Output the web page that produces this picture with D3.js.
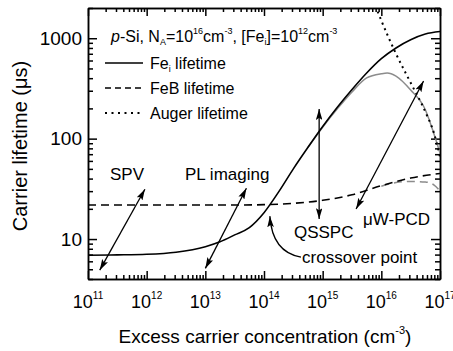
<!DOCTYPE html>
<html>
<head>
<meta charset="utf-8">
<script src="https://cdn.jsdelivr.net/npm/d3@7"></script>
<style>
  html, body { margin: 0; padding: 0; background: #fff; }
  svg { display: block; font-family: "Liberation Sans", Arial, Helvetica, sans-serif; }
  .axis path, .axis line { stroke: #000; stroke-width: 1.5; }
</style>
</head>
<body>
<svg id="chart" width="453" height="351"></svg>
<script>
// concentrations are written as log10(cm^-3), lifetimes in microseconds
var feiLogN = [11, 11.5, 12, 12.5, 13, 13.25, 13.5, 13.75, 14, 14.25, 14.5, 14.75, 15, 15.25, 15.5, 15.75, 16, 16.25, 16.5, 16.75, 17];
var feiTau  = [6.9, 6.95, 7.05, 7.4, 8.4, 9.4, 11.0, 13.0, 18.3, 29.5, 50, 82, 132, 205, 308, 450, 625, 800, 965, 1100, 1165];

var febLogN = [11, 12, 13, 13.5, 14, 14.5, 15, 15.5, 16, 16.5, 17];
var febTau  = [21.8, 21.8, 21.8, 21.8, 22.0, 22.7, 24.3, 27.6, 34, 40.5, 45];

var augerLogN = [15.9, 16, 16.25, 16.5, 16.75, 16.9, 17];
var augerTau  = [2100, 1500, 700, 360, 185, 112, 66];

// effective lifetimes (grey): trap + Auger
var feiEffLogN = [14.75, 15, 15.25, 15.5, 15.75, 16, 16.1, 16.25, 16.5, 16.75, 16.9, 17];
var feiEffTau  = [82, 130, 198, 292, 402, 443, 450, 420, 305, 194, 110, 72];

var febEffLogN = [16, 16.25, 16.5, 16.75, 16.9, 17];
var febEffTau  = [33.6, 36.5, 37.5, 37, 34.5, 30];

var xTickExp  = [11, 12, 13, 14, 15, 16, 17];
var yTickVals = [10, 100, 1000];

// measurement technique annotations
var noteText  = ["SPV", "PL imaging", "QSSPC", "\u03bcW-PCD", "crossover point"];
var noteLogN  = [11.375, 12.653, 14.511, 15.687, 14.648];
var noteTau   = [38.7, 38.7, 10.2, 13.8, 5.77];
var arrowLogN0 = [11.2, 13.0, 14.94, 15.57];
var arrowTau0  = [4.9, 5.1, 15.8, 19.9];
var arrowLogN1 = [11.97, 13.7, 14.94, 16.72];
var arrowTau1  = [31.3, 32, 197, 375];
// crossover pointer: start, control, end
var crossLogN = [14.63, 14.14, 14.10];
var crossTau  = [6.6, 7.4, 16.9];

var plotLeft = 88, plotRight = 440, plotTop = 8, plotBottom = 279;

var svg = d3.select('#chart');

var x = d3.scaleLog().domain([1e11, 1e17]).range([plotLeft, plotRight]);
var y = d3.scaleLog().domain([4, 2000]).range([plotBottom, plotTop]);

var pow10 = function (e) { return Math.pow(10, e); };
var isDecade = function (v) {
  var l = Math.log10(v);
  return Math.abs(l - Math.round(l)) < 1e-9;
};

var defs = svg.append('defs');
defs.append('clipPath').attr('id', 'plot-clip')
  .append('rect')
  .attr('x', plotLeft).attr('y', plotTop)
  .attr('width', plotRight - plotLeft).attr('height', plotBottom - plotTop);

defs.append('marker')
  .attr('id', 'head')
  .attr('viewBox', '0 0 10 6')
  .attr('refX', 10)
  .attr('refY', 3)
  .attr('markerWidth', 11)
  .attr('markerHeight', 6.6)
  .attr('markerUnits', 'userSpaceOnUse')
  .attr('orient', 'auto-start-reverse')
  .append('path')
  .attr('d', 'M0,0L10,3L0,6L2,3Z')
  .attr('fill', '#000');

// axes: ticks pointing inward on all four sides
var majorX = xTickExp.map(pow10);
var minorX = x.ticks().filter(function (v) { return !isDecade(v); });
var majorY = yTickVals;
var minorY = y.ticks().filter(function (v) { return !isDecade(v); });

var addAxis = function (axisFn, scale, values, size, transform) {
  svg.append('g')
    .attr('class', 'axis')
    .attr('transform', transform)
    .call(axisFn(scale).tickValues(values).tickSize(-size).tickSizeOuter(0).tickFormat(''));
};

addAxis(d3.axisBottom, x, minorX, 4, 'translate(0,' + plotBottom + ')');
addAxis(d3.axisBottom, x, majorX, 8, 'translate(0,' + plotBottom + ')');
addAxis(d3.axisTop, x, minorX, 4, 'translate(0,' + plotTop + ')');
addAxis(d3.axisTop, x, majorX, 8, 'translate(0,' + plotTop + ')');
addAxis(d3.axisLeft, y, minorY, 5, 'translate(' + plotLeft + ',0)');
addAxis(d3.axisLeft, y, majorY, 9, 'translate(' + plotLeft + ',0)');
addAxis(d3.axisRight, y, minorY, 5, 'translate(' + plotRight + ',0)');
addAxis(d3.axisRight, y, majorY, 9, 'translate(' + plotRight + ',0)');

// tick labels
xTickExp.forEach(function (e) {
  var t = svg.append('text')
    .attr('x', x(pow10(e)))
    .attr('y', 308)
    .attr('text-anchor', 'middle')
    .attr('font-size', 18);
  t.append('tspan').text('10');
  t.append('tspan').attr('dy', -9).attr('font-size', 10).text(e);
});

yTickVals.forEach(function (v) {
  svg.append('text')
    .attr('x', 82)
    .attr('y', y(v) + 6.8)
    .attr('text-anchor', 'end')
    .attr('font-size', 19)
    .text(v);
});

// axis titles
var xt = svg.append('text')
  .attr('x', 265)
  .attr('y', 343)
  .attr('text-anchor', 'middle')
  .attr('font-size', 19);
xt.append('tspan').text('Excess carrier concentration (cm');
xt.append('tspan').attr('dy', -9).attr('font-size', 11).text('-3');
xt.append('tspan').attr('dy', 9).text(')');

svg.append('text')
  .attr('transform', 'translate(27,146) rotate(-90)')
  .attr('text-anchor', 'middle')
  .attr('font-size', 20)
  .text('Carrier lifetime (\u03bcs)');

// curves
var line = d3.line()
  .x(function (d) { return x(pow10(d[0])); })
  .y(function (d) { return y(d[1]); })
  .curve(d3.curveMonotoneX);

var plot = svg.append('g').attr('clip-path', 'url(#plot-clip)');

var drawCurve = function (logN, tau, color, width, dash) {
  plot.append('path')
    .datum(d3.zip(logN, tau))
    .attr('d', line)
    .attr('fill', 'none')
    .attr('stroke', color)
    .attr('stroke-width', width)
    .attr('stroke-dasharray', dash);
};

drawCurve(feiEffLogN, feiEffTau, '#8c8c8c', 1.5, null);
drawCurve(febEffLogN, febEffTau, '#8c8c8c', 1.5, '8,5');
drawCurve(feiLogN, feiTau, '#000', 1.6, null);
drawCurve(febLogN, febTau, '#000', 1.6, '8,5');
drawCurve(augerLogN, augerTau, '#000', 2, '2,4');

// arrows
arrowLogN0.forEach(function (n0, i) {
  svg.append('line')
    .attr('x1', x(pow10(n0)))
    .attr('y1', y(arrowTau0[i]))
    .attr('x2', x(pow10(arrowLogN1[i])))
    .attr('y2', y(arrowTau1[i]))
    .attr('stroke', '#000')
    .attr('stroke-width', 1.3)
    .attr('marker-start', 'url(#head)')
    .attr('marker-end', 'url(#head)');
});

var cx = crossLogN.map(function (n) { return x(pow10(n)); });
var cy = crossTau.map(function (t) { return y(t); });
svg.append('path')
  .attr('d', 'M' + cx[0] + ',' + cy[0] + 'Q' + cx[1] + ',' + cy[1] + ' ' + cx[2] + ',' + cy[2])
  .attr('fill', 'none')
  .attr('stroke', '#000')
  .attr('stroke-width', 1.3)
  .attr('marker-end', 'url(#head)');

noteText.forEach(function (s, i) {
  svg.append('text')
    .attr('x', x(pow10(noteLogN[i])))
    .attr('y', y(noteTau[i]))
    .attr('font-size', 17)
    .text(s);
});

// legend
var title = svg.append('text')
  .attr('x', 111)
  .attr('y', 42)
  .attr('font-size', 16);
title.append('tspan').attr('font-style', 'italic').text('p');
title.append('tspan').text('-Si, N');
title.append('tspan').attr('dy', 3).attr('font-size', 9).text('A');
title.append('tspan').attr('dy', -3).text('=10');
title.append('tspan').attr('dy', -8).attr('font-size', 9).text('16');
title.append('tspan').attr('dy', 8).text('cm');
title.append('tspan').attr('dy', -8).attr('font-size', 9).text('-3');
title.append('tspan').attr('dy', 8).text(', [Fe');
title.append('tspan').attr('dy', 3).attr('font-size', 9).text('i');
title.append('tspan').attr('dy', -3).text(']=10');
title.append('tspan').attr('dy', -8).attr('font-size', 9).text('12');
title.append('tspan').attr('dy', 8).text('cm');
title.append('tspan').attr('dy', -8).attr('font-size', 9).text('-3');

var legendY = [63, 88, 113];
var legendDash = [null, '6,4', '2,4.5'];
var legendWidth = [1.6, 1.6, 2];
legendY.forEach(function (ly, i) {
  svg.append('line')
    .attr('x1', 105).attr('x2', 143)
    .attr('y1', ly).attr('y2', ly)
    .attr('stroke', '#000')
    .attr('stroke-width', legendWidth[i])
    .attr('stroke-dasharray', legendDash[i]);
});

var l1 = svg.append('text').attr('x', 150).attr('y', legendY[0] + 6).attr('font-size', 16);
l1.append('tspan').text('Fe');
l1.append('tspan').attr('dy', 3).attr('font-size', 9).text('i');
l1.append('tspan').attr('dy', -3).text(' lifetime');
svg.append('text').attr('x', 150).attr('y', legendY[1] + 6).attr('font-size', 16).text('FeB lifetime');
svg.append('text').attr('x', 150).attr('y', legendY[2] + 6).attr('font-size', 16).text('Auger lifetime');
</script>
</body>
</html>
